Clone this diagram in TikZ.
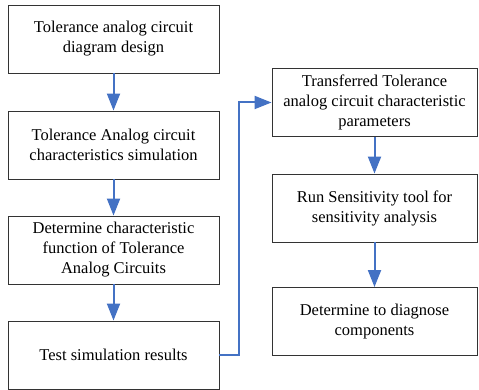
\documentclass[tikz,border=0pt]{standalone}
\usepackage{fontspec}
\newfontfamily\tnr{LiberationSerif}[Extension=.ttf,UprightFont=*-Regular]
\usetikzlibrary{arrows.meta}
\definecolor{flowblue}{HTML}{4472C4}
\begin{document}
\begin{tikzpicture}[x=1pt,y=-1pt,
  stepbox/.style={draw=black!80,line width=0.9pt,minimum width=211pt,minimum height=68pt,align=center,inner sep=2pt,
    font=\tnr\fontsize{16.5}{20}\selectfont},
  rbox/.style={stepbox,minimum width=205pt},
  flow/.style={draw=flowblue,line width=2pt,-{Triangle[width=13pt,length=17pt]}}]
\useasboundingbox (0,0) rectangle (479,390);
\node[stepbox] (a) at (113.5,39) {Tolerance analog circuit\\diagram design};
\node[stepbox] (b) at (113.5,145) {Tolerance Analog circuit\\characteristics simulation};
\node[stepbox] (c) at (113.5,250) {Determine characteristic\\function of Tolerance\\Analog Circuits};
\node[stepbox] (d) at (113.5,355) {Test simulation results};
\node[rbox] (e) at (374.5,102.5) {Transferred Tolerance\\analog circuit characteristic\\parameters};
\node[rbox] (f) at (374.5,208) {Run Sensitivity tool for\\sensitivity analysis};
\node[rbox] (g) at (374.5,321.5) {Determine to diagnose\\components};
\draw[flow] (a) -- (b);
\draw[flow] (b) -- (c);
\draw[flow] (c) -- (d);
\draw[flow] (e) -- (f);
\draw[flow] (f) -- (g);
\coordinate (t1) at (239,355);
\coordinate (t2) at (239,102.5);
\draw[flow] (d.east) -- (t1) -- (t2) -- (e.west);
\end{tikzpicture}
\end{document}
